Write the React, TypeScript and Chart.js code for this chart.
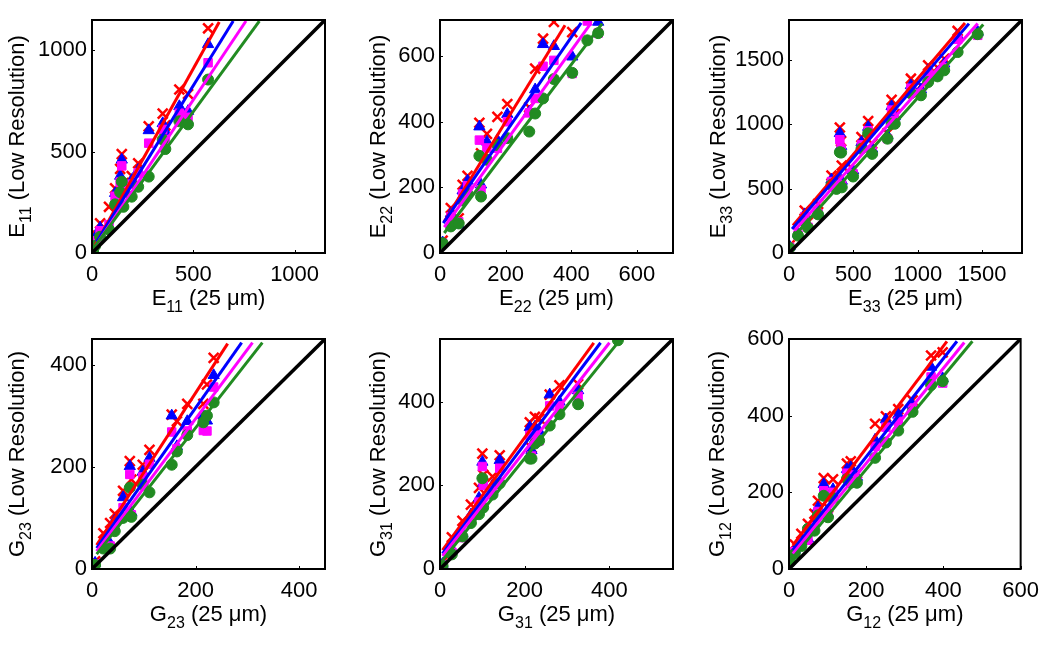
import React, { useEffect, useRef } from "react";
import { Chart, registerables } from "chart.js";

Chart.register(...registerables);

const RED = "#ff0000";
const BLUE = "#0000ff";
const MAGENTA = "#ff00ff";
const GREEN = "#228b22";
const FONT = "'Liberation Sans', Arial, Helvetica, sans-serif";

// ---------- E11 ----------
const e11Ticks = [0, 500, 1000];
const e11X = [5, 15, 40, 84, 114, 139, 147, 155, 196, 228, 280, 349, 362, 431, 474, 573];
const e11Red = [25, 96, 146, 228, 319, 415, 488, 345, 380, 443, 625, 688, 630, 807, 785, 1109];
const e11Blue = [20, 75, 125, 129, 295, 380, 460, 330, 360, 410, 605, 640, 600, 724, 700, 1030];
const e11Magenta = [15, 60, 110, 140, 280, 350, 430, 310, 340, 395, 542, 610, 560, 690, 670, 939];
const e11Green = [10, 35, 80, 115, 240, 300, 352, 228, 278, 327, 377, 560, 513, 650, 635, 856];
// fit lines: [x0, y0, x1, y1] for red, blue, magenta, green
const e11Fits = [[15, 38, 628, 1140], [23, 55, 697, 1145], [15, 30, 760, 1145], [6, 22, 826, 1145]];

// ---------- E22 ----------
const e22Ticks = [0, 200, 400, 600];
const e22X = [8, 33, 57, 69, 84, 120, 125, 143, 175, 205, 272, 290, 314, 347, 403, 449, 482];
const e22Red = [38, 137, 106, 208, 235, 397, 304, 363, 415, 454, 444, 562, 653, 704, 673, null, null];
const e22Blue = [32, 120, 86, 190, 220, 385, 208, 339, 344, 423, 430, 498, 636, 630, 598, null, 704];
const e22Magenta = [30, 110, 95, 180, 205, 344, 193, 320, 319, 400, 427, 471, 569, 587, 547, 707, 670];
const e22Green = [30, 81, 90, 160, 180, 296, 172, 284, 329, 350, 370, 425, 471, 530, 549, 648, 670];
const e22Fits = [[13, 96, 381, 694], [10, 91, 430, 701], [13, 79, 459, 699], [13, 61, 494, 699]];

// ---------- E33 ----------
const e33Ticks = [0, 500, 1000, 1500];
const e33X = [5, 70, 122, 148, 226, 330, 369, 395, 405, 410, 498, 563, 615, 646, 765, 797, 822, 947, 1025, 1081, 1154, 1206, 1310, 1466];
const e33Red = [60, 165, 330, 240, 381, 602, 560, 975, 869, 680, 650, 900, 1025, 850, 930, 1190, 1080, 1354, 1300, 1458, 1440, 1509, 1725, null];
const e33Blue = [50, 150, 300, 213, 317, 570, 540, 930, 830, 560, 641, 860, 978, 809, 913, 1139, 1060, 1302, 1270, 1420, 1400, 1470, 1690, 1717];
const e33Magenta = [45, 140, 280, 200, 305, 555, 520, 880, 810, 530, 615, 840, 950, 790, 888, 1110, 1030, 1280, 1240, 1390, 1380, 1440, 1660, 1691];
const e33Green = [40, 135, 240, 195, 300, 530, 498, 783, 780, 510, 594, 810, 930, 770, 888, 1004, 1004, 1240, 1225, 1328, 1372, 1419, 1561, 1700];
const e33Fits = [[31, 213, 1367, 1787], [24, 187, 1398, 1782], [44, 174, 1466, 1782], [44, 135, 1509, 1776]];

// ---------- G23 ----------
const g23Ticks = [0, 200, 400];
const g23X = [6, 22, 35, 44, 60, 73, 76, 98, 111, 154, 164, 184, 215, 222, 235];
const g23Red = [15, 70, 90, 108, 153, 211, 175, 204, 233, 302, 289, 323, 323, 361, 413];
const g23Blue = [12, 55, 50, 95, 140, 201, 111, 190, 217, 300, 240, 289, 300, 290, 379];
const g23Magenta = [10, 45, 45, 85, 120, 185, 106, 180, 205, 268, 235, 270, 271, 270, 356];
const g23Green = [8, 40, 40, 74, 100, 159, 102, 165, 150, 204, 230, 262, 287, 300, 326];
const g23Fits = [[9, 47, 262, 441], [9, 41, 289, 443], [9, 35, 310, 443], [9, 29, 329, 443]];

// ---------- G31 ----------
const g31Ticks = [0, 200, 400];
const g31X = [6, 28, 53, 73, 92, 100, 102, 124, 141, 212, 216, 224, 234, 259, 282, 326, 420];
const g31Red = [17, 76, 115, 154, 194, 276, 225, 221, 272, 351, 290, 364, 360, 417, 439, 442, null];
const g31Blue = [12, 48, 84, 130, 170, 256, 205, 200, 260, 339, 284, 340, 330, 417, 400, 427, null];
const g31Magenta = [10, 40, 75, 120, 160, 245, 200, 190, 241, 320, 270, 320, 307, 390, 390, 413, null];
const g31Green = [8, 35, 78, 110, 131, 217, 147, 178, 205, 264, 264, 300, 307, 343, 370, 394, 547];
const g31Fits = [[6, 45, 363, 541], [6, 37, 379, 541], [6, 31, 400, 541], [6, 21, 418, 539]];

// ---------- G12 ----------
const g12Ticks = [0, 200, 400, 600];
const g12X = [3, 15, 32, 49, 66, 75, 90, 101, 114, 150, 160, 176, 223, 251, 283, 320, 368, 398];
const g12Red = [27, 64, 92, 118, 144, 178, 237, 160, 234, 275, 281, 250, 379, 398, 417, 440, 557, 565];
const g12Blue = [22, 50, 75, 79, 120, 160, 221, 144, 208, 260, 265, 240, 337, 390, 402, 428, 527, 497];
const g12Magenta = [20, 45, 70, 75, 110, 150, 204, 140, 200, 250, 245, 234, 320, 370, 385, 420, 501, 485];
const g12Green = [19, 40, 60, 105, 100, 140, 191, 135, 185, 235, 225, 225, 290, 330, 361, 410, 480, 490];
const g12Fits = [[10, 62, 409, 594], [10, 49, 435, 594], [10, 40, 454, 591], [8, 27, 475, 594]];

// ---------- layout ----------
const CANVAS_W = 350;
const CANVAS_H = 323;
const COL_LEFT = [0, 350, 700];
const AREA_LEFT = [92, 440, 789];
const AREA_RIGHT = [325, 673, 1022];
const ROW_TOP = [0, 323];
const AREA_TOP = [20, 336];
const AREA_BOTTOM = [253, 569];

type Panel = {
  sym: string;
  sub: string;
  max: number;
  ticks: number[];
  x: number[];
  ys: (number | null)[][];
  fits: number[][];
  col: number;
  row: number;
  yTitleX: number;
};

const panels: Panel[] = [
  { sym: "E", sub: "11", max: 1150, ticks: e11Ticks, x: e11X, ys: [e11Red, e11Blue, e11Magenta, e11Green], fits: e11Fits, col: 0, row: 0, yTitleX: 24 },
  { sym: "E", sub: "22", max: 710, ticks: e22Ticks, x: e22X, ys: [e22Red, e22Blue, e22Magenta, e22Green], fits: e22Fits, col: 1, row: 0, yTitleX: 35 },
  { sym: "E", sub: "33", max: 1810, ticks: e33Ticks, x: e33X, ys: [e33Red, e33Blue, e33Magenta, e33Green], fits: e33Fits, col: 2, row: 0, yTitleX: 25 },
  { sym: "G", sub: "23", max: 450, ticks: g23Ticks, x: g23X, ys: [g23Red, g23Blue, g23Magenta, g23Green], fits: g23Fits, col: 0, row: 1, yTitleX: 24 },
  { sym: "G", sub: "31", max: 550, ticks: g31Ticks, x: g31X, ys: [g31Red, g31Blue, g31Magenta, g31Green], fits: g31Fits, col: 1, row: 1, yTitleX: 35 },
  { sym: "G", sub: "12", max: 600, ticks: g12Ticks, x: g12X, ys: [g12Red, g12Blue, g12Magenta, g12Green], fits: g12Fits, col: 2, row: 1, yTitleX: 24 },
];

const SERIES = [
  { color: RED, style: "crossRot", radius: 7, border: 2.5 },
  { color: BLUE, style: "triangle", radius: 6.5, border: 1 },
  { color: MAGENTA, style: "rect", radius: 6, border: 1 },
  { color: GREEN, style: "circle", radius: 5.5, border: 1 },
];

type Part = { t: string; sub?: boolean };

function drawRich(ctx: CanvasRenderingContext2D, parts: Part[], cx: number, baseY: number) {
  const MAIN = 22;
  const SUB = 16;
  const widths = parts.map((p) => {
    ctx.font = `${p.sub ? SUB : MAIN}px ${FONT}`;
    return ctx.measureText(p.t).width;
  });
  const total = widths.reduce((a, b) => a + b, 0);
  let x = cx - total / 2;
  ctx.textAlign = "left";
  ctx.textBaseline = "alphabetic";
  parts.forEach((p, i) => {
    ctx.font = `${p.sub ? SUB : MAIN}px ${FONT}`;
    ctx.fillText(p.t, x, baseY + (p.sub ? 6.5 : 0));
    x += widths[i];
  });
}

const framePlugin = {
  id: "panelFrame",
  afterDraw(chart: any) {
    const p: Panel = chart.options.plugins.panelFrame.panel;
    const { ctx, chartArea: a, scales } = chart;
    ctx.save();
    ctx.fillStyle = "#000";
    ctx.strokeStyle = "#000";
    // inward tick marks
    ctx.lineWidth = 1;
    ctx.beginPath();
    p.ticks.forEach((v) => {
      const px = Math.round(scales.x.getPixelForValue(v)) + 0.5;
      ctx.moveTo(px, a.bottom);
      ctx.lineTo(px, a.bottom - 3);
      const py = Math.round(scales.y.getPixelForValue(v)) + 0.5;
      ctx.moveTo(a.left, py);
      ctx.lineTo(a.left + 3, py);
    });
    ctx.stroke();
    // frame
    ctx.lineWidth = 2;
    ctx.strokeRect(a.left, a.top, a.right - a.left, a.bottom - a.top);
    // x title
    drawRich(ctx, [{ t: p.sym }, { t: p.sub, sub: true }, { t: " (25 \u03bcm)" }], (a.left + a.right) / 2, a.bottom + 52);
    // y title
    ctx.translate(p.yTitleX, (a.top + a.bottom) / 2);
    ctx.rotate(-Math.PI / 2);
    drawRich(ctx, [{ t: p.sym }, { t: p.sub, sub: true }, { t: " (Low Resolution)" }], 0, 0);
    ctx.restore();
  },
};

function buildConfig(p: Panel): any {
  const datasets: any[] = [];
  datasets.push({
    data: [{ x: 0, y: 0 }, { x: p.max, y: p.max }],
    showLine: true,
    borderColor: "#000",
    borderWidth: 3.5,
    pointRadius: 0,
  });
  for (let s = 3; s >= 0; s--) {
    const f = p.fits[s];
    datasets.push({
      data: [{ x: f[0], y: f[1] }, { x: f[2], y: f[3] }],
      showLine: true,
      borderColor: SERIES[s].color,
      borderWidth: 3,
      pointRadius: 0,
    });
  }
  for (let s = 3; s >= 0; s--) {
    const ser = SERIES[s];
    const pts: { x: number; y: number }[] = [];
    p.x.forEach((xv, i) => {
      const yv = p.ys[s][i];
      if (yv !== null && yv !== undefined) pts.push({ x: xv, y: yv });
    });
    datasets.push({
      data: pts,
      showLine: false,
      pointStyle: ser.style,
      pointRadius: ser.radius,
      pointBorderWidth: ser.border,
      backgroundColor: ser.color,
      borderColor: ser.color,
      pointBackgroundColor: ser.color,
      pointBorderColor: ser.color,
    });
  }
  const tickFont = { family: FONT, size: 22, lineHeight: 1 };
  const setTicks = (scale: any) => {
    scale.ticks = p.ticks.map((v) => ({ value: v }));
  };
  const fmt = (v: any) => String(v);
  return {
    type: "scatter",
    data: { datasets },
    plugins: [framePlugin],
    options: {
      responsive: false,
      animation: false,
      devicePixelRatio: 1,
      events: [],
      layout: {
        padding: {
          left: 0,
          top: AREA_TOP[p.row] - ROW_TOP[p.row],
          right: COL_LEFT[p.col] + CANVAS_W - AREA_RIGHT[p.col],
          bottom: 0,
        },
      },
      plugins: {
        legend: { display: false },
        tooltip: { enabled: false },
        title: { display: false },
        panelFrame: { panel: p },
      },
      scales: {
        x: {
          type: "linear",
          min: 0,
          max: p.max,
          grid: { display: false, drawTicks: false },
          border: { display: false },
          ticks: { font: tickFont, color: "#000", padding: 11, maxRotation: 0, autoSkip: false, callback: fmt },
          afterBuildTicks: setTicks,
          afterFit: (s: any) => {
            s.height = ROW_TOP[p.row] + CANVAS_H - AREA_BOTTOM[p.row];
          },
        },
        y: {
          type: "linear",
          min: 0,
          max: p.max,
          grid: { display: false, drawTicks: false },
          border: { display: false },
          ticks: { font: tickFont, color: "#000", padding: 5, autoSkip: false, callback: fmt },
          afterBuildTicks: setTicks,
          afterFit: (s: any) => {
            s.width = AREA_LEFT[p.col] - COL_LEFT[p.col];
          },
        },
      },
    },
  };
}

function PanelChart({ p }: { p: Panel }) {
  const ref = useRef<HTMLCanvasElement>(null);
  useEffect(() => {
    const chart = new Chart(ref.current as HTMLCanvasElement, buildConfig(p));
    return () => chart.destroy();
  }, [p]);
  return (
    <canvas
      ref={ref}
      width={CANVAS_W}
      height={CANVAS_H}
      style={{
        position: "absolute",
        left: COL_LEFT[p.col],
        top: ROW_TOP[p.row],
        width: CANVAS_W,
        height: CANVAS_H,
      }}
    />
  );
}

export default function App() {
  return (
    <div
      style={{
        position: "absolute",
        left: 0,
        top: 0,
        width: 1050,
        height: 646,
        background: "#fff",
        overflow: "hidden",
      }}
    >
      {panels.map((p, i) => (
        <PanelChart key={i} p={p} />
      ))}
    </div>
  );
}
